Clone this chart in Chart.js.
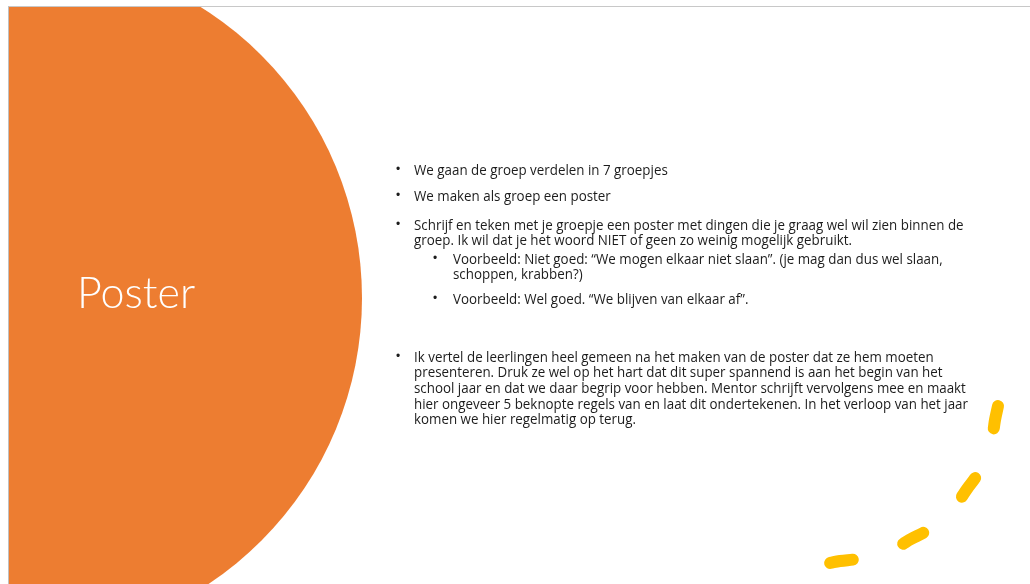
<!DOCTYPE html>
<html>
<head>
<meta charset="utf-8">
<title>Poster</title>
<script src="https://cdn.jsdelivr.net/npm/chart.js"></script>
<style>
    html, body { margin: 0; padding: 0; background: #ffffff; overflow: hidden; }
    body { width: 1030px; height: 584px; position: relative; }
    #slide {
        position: absolute; left: 8px; top: 6px; width: 1022px; height: 578px;
        border-top: 1px solid #c8c8c8; border-left: 1px solid #c0c0c0; box-sizing: border-box;
    }
    #wrap { position: absolute; left: 9px; top: 7px; width: 1021px; height: 577px; }
    .title {
        position: absolute; left: 77px; top: 270px; color: #ffffff;
        font-family: "Lato", "Open Sans", sans-serif; font-weight: 300; font-size: 43px; line-height: 43px;
        white-space: nowrap;
    }
    .txt {
        position: absolute; color: #1c1c1c; font-family: "Open Sans", "Noto Sans", sans-serif;
        font-size: 14px; line-height: 15.6px; white-space: nowrap; transform-origin: 0 0;
    }
    .dot {
        position: absolute; color: #1c1c1c; font-family: "Liberation Sans", sans-serif;
        font-size: 12px; line-height: 15.6px;
    }
</style>
</head>
<body>
<div id="slide"></div>
<div id="wrap"><canvas id="PosterChart"></canvas></div>
<div class="title">Poster</div>
<div id="text"></div>
<script>
// Orange circle: centre x, centre y, radius (page pixels)
var circleX = [19];
var circleY = [298];
var circleR = [343];
// Yellow dashed arc, points along the curve (page pixels)
var arcX = [998, 995, 993, 986, 977, 967, 957, 941, 926, 911, 897, 877, 857, 840, 830];
var arcY = [406, 420, 432, 456, 475, 489, 503, 518, 531, 539, 547, 554, 559, 561, 563];
// Slide text: bullet level and lines
var bulletLevel = [1, 1, 1, 2, 2, 1];
var bulletLines = [
    ["We gaan de groep verdelen in 7 groepjes"],
    ["We maken als groep een poster"],
    ["Schrijf en teken met je groepje een poster met dingen die je graag wel wil zien binnen de",
     "groep. Ik wil dat je het woord NIET of geen zo weinig mogelijk gebruikt."],
    ["Voorbeeld: Niet goed: \u201cWe mogen elkaar niet slaan\u201d. (je mag dan dus wel slaan,",
     "schoppen, krabben?)"],
    ["Voorbeeld: Wel goed. \u201cWe blijven van elkaar af\u201d."],
    ["Ik vertel de leerlingen heel gemeen na het maken van de poster dat ze hem moeten",
     "presenteren. Druk ze wel op het hart dat dit super spannend is aan het begin van het",
     "school jaar en dat we daar begrip voor hebben. Mentor schrijft vervolgens mee en maakt",
     "hier ongeveer 5 beknopte regels van en laat dit ondertekenen. In het verloop van het jaar",
     "komen we hier regelmatig op terug."]
];
var bulletBaseline = [175, 201, 230, 264, 304, 362];

document.addEventListener("DOMContentLoaded", function() {
    // Write the bullet text as real text.
    var holder = document.getElementById("text");
    var blocks = [];
    for (var i = 0; i < bulletLines.length; i++) {
        var top = bulletBaseline[i] - 13.2;
        var dot = document.createElement("div");
        dot.className = "dot";
        dot.style.left = (bulletLevel[i] == 1 ? 396 : 433) + "px";
        dot.style.top = top + "px";
        dot.textContent = "\u2022";
        holder.appendChild(dot);
        var t = document.createElement("div");
        t.className = "txt";
        t.style.left = (bulletLevel[i] == 1 ? 414 : 453) + "px";
        t.style.top = top + "px";
        t.innerHTML = bulletLines[i].join("<br>");
        holder.appendChild(t);
        blocks.push(t);
    }
    // Squeeze the text so the longest line spans like the original (Calibri is narrow).
    var k = 554 / blocks[5].getBoundingClientRect().width;
    blocks.forEach(function(b) { b.style.transform = "scaleX(" + k + ")"; });

    // Build the circle and the dashed arc from the arrays.
    var circleData = circleX.map(function(x, i) { return { x: x, y: circleY[i], r: circleR[i] }; });
    var arcData = arcX.map(function(x, i) { return { x: x, y: arcY[i] }; });

    new Chart(document.getElementById("PosterChart"), {
        type: 'scatter',
        data: {
            datasets: [{
                type: 'bubble',
                data: circleData,
                backgroundColor: "#ED7D31",
                borderWidth: 0
            },
            {
                type: 'line',
                data: arcData,
                borderColor: "#FFC000",
                borderWidth: 12,
                borderDash: [23, 53],
                borderCapStyle: 'round',
                tension: 0.4,
                pointRadius: 0,
                fill: false
            }]
        },
        options: {
            responsive: true,
            maintainAspectRatio: false,
            animation: false,
            events: [],
            // big bubble must not push the plot area inwards
            layout: { padding: 0, autoPadding: false },
            plugins: { legend: { display: false }, tooltip: { enabled: false } },
            scales: {
                x: { type: 'linear', display: false, min: 9, max: 1030 },
                y: { type: 'linear', display: false, min: 7, max: 584, reverse: true }
            }
        }
    });
});
</script>
</body>
</html>
